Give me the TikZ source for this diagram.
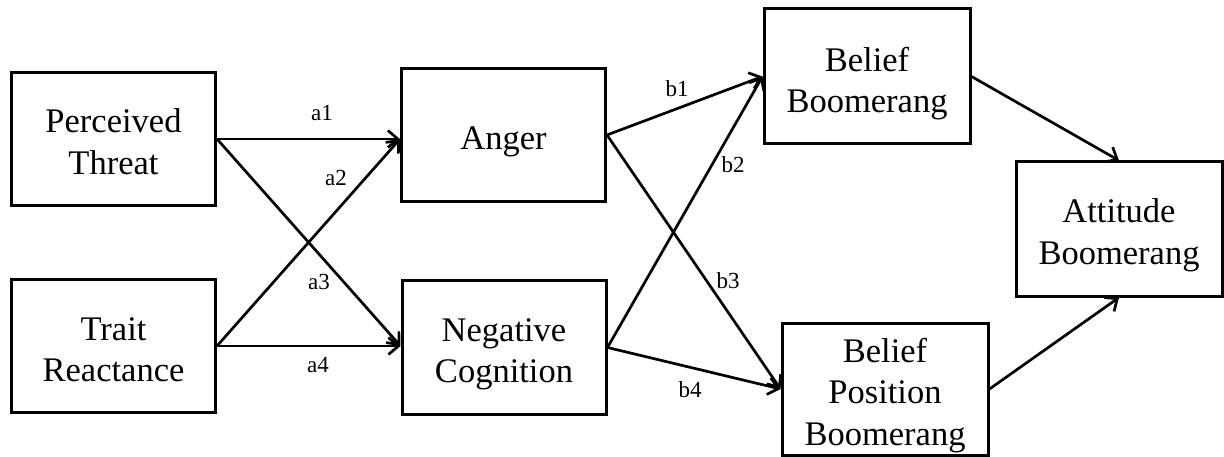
\documentclass[tikz,border=0pt]{standalone}
\usepackage{fontspec}
\setmainfont{Liberation Serif}
\usetikzlibrary{arrows.meta}
% centred lines of box text; #1 lifts the first baseline above the box centre
\newcommand\boxlines[2]{\raisebox{#1}[0pt][0pt]{\begin{tabular}[t]{@{}c@{}}#2\end{tabular}}}
\begin{document}
\begin{tikzpicture}[x=1pt,y=-1pt,
  box/.style={draw, line width=3pt, inner sep=0pt,
    minimum width=204pt, minimum height=133pt,
    font=\fontsize{34.5}{41.5}\selectfont},
  link/.style={line width=2.7pt, -{Straight Barb[length=10pt,width=17pt]}},
  lbl/.style={font=\fontsize{23}{26}\selectfont, inner sep=0pt}]
  \useasboundingbox (0,0) rectangle (1224,457);

  % boxes
  \node[box] (pt)  at (113.5,139)  {\boxlines{6pt}{Perceived\\Threat}};
  \node[box] (tr)  at (113.5,346)  {\boxlines{6pt}{Trait\\Reactance}};
  \node[box] (an)  at (503.5,135)  {\boxlines{-15pt}{Anger}};
  \node[box] (nc)  at (504,347.5)  {\boxlines{6pt}{Negative\\Cognition}};
  \node[box, minimum width=206pt, minimum height=135pt] (bb) at (867,76.5)
    {\boxlines{5pt}{Belief\\Boomerang}};
  \node[box, minimum width=206pt, minimum height=132pt] (bpb) at (885,389)
    {\boxlines{27pt}{Belief\\Position\\Boomerang}};
  \node[box, minimum width=206pt, minimum height=134pt] (ab) at (1119,229)
    {\boxlines{6pt}{Attitude\\Boomerang}};

  % paths into the mediators
  \draw[link] (pt.east) -- (pt.east -| an.west);
  \draw[link] (tr.east) -- (pt.east -| an.west);
  \draw[link] (pt.east) -- (tr.east -| nc.west);
  \draw[link] (tr.east) -- (tr.east -| nc.west);

  % paths into the boomerang outcomes
  \draw[link] (an.east) -- (bb.west);
  \draw[link] (nc.east) -- (bb.west);
  \draw[link] (an.east) -- (bpb.west);
  \draw[link] (nc.east) -- (bpb.west);
  \draw[link] (bb.east) -- (ab.north);
  \draw[link] (bpb.east) -- (ab.south);

  % path labels
  \node[lbl] (la1) at (322,113) {a1};
  \node[lbl] (la2) at (336,178) {a2};
  \node[lbl] (la3) at (319,282) {a3};
  \node[lbl] (la4) at (318,365) {a4};
  \node[lbl] (lb1) at (677,89)  {b1};
  \node[lbl] (lb2) at (733,165) {b2};
  \node[lbl] (lb3) at (728,281) {b3};
  \node[lbl] (lb4) at (690,390) {b4};
\end{tikzpicture}
\end{document}
